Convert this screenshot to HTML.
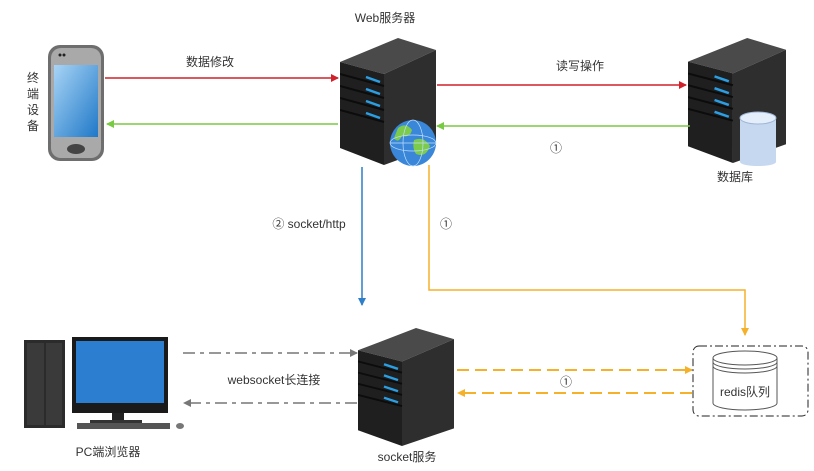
<!DOCTYPE html>
<html><head><meta charset="utf-8"><style>
html,body{margin:0;padding:0;background:#fff;}
svg{display:block;}
text{font-family:"Liberation Sans","Noto Sans CJK SC",sans-serif;fill:#333;font-size:12px;}
</style></head><body>
<svg width="814" height="471" viewBox="0 0 814 471" xmlns="http://www.w3.org/2000/svg">
<defs>
<symbol id="srv" viewBox="0 0 96 127" preserveAspectRatio="none">
  <polygon points="0,24 58,0 96,12 44,36" fill="#4a4a4a"/>
  <polygon points="44,36 96,12 96,108 44,127" fill="#2e2e2e"/>
  <polygon points="0,24 44,36 44,127 0,110" fill="#1f1f1f"/>
  <g stroke="#0c0c0c" stroke-width="2">
    <line x1="0" y1="36" x2="44" y2="48"/><line x1="0" y1="48" x2="44" y2="60"/>
    <line x1="0" y1="60" x2="44" y2="72"/><line x1="0" y1="72" x2="44" y2="84"/>
  </g>
  <g stroke="#2a9fe6" stroke-width="2.5">
    <line x1="26" y1="39" x2="40" y2="44"/><line x1="26" y1="51" x2="40" y2="56"/>
    <line x1="26" y1="63" x2="40" y2="68"/><line x1="26" y1="75" x2="40" y2="80"/>
  </g>
</symbol>
<linearGradient id="scr" x1="0" y1="0" x2="1" y2="1"><stop offset="0" stop-color="#a8d4f5"/><stop offset="1" stop-color="#1f78c8"/></linearGradient>
<marker id="aR" markerWidth="8" markerHeight="8" refX="7" refY="4" orient="auto" markerUnits="userSpaceOnUse"><path d="M0,0 L8,4 L0,8 Z" fill="#d0202a"/></marker>
<marker id="aG" markerWidth="8" markerHeight="8" refX="7" refY="4" orient="auto" markerUnits="userSpaceOnUse"><path d="M0,0 L8,4 L0,8 Z" fill="#7ac943"/></marker>
<marker id="aB" markerWidth="8" markerHeight="8" refX="7" refY="4" orient="auto" markerUnits="userSpaceOnUse"><path d="M0,0 L8,4 L0,8 Z" fill="#2f7fc8"/></marker>
<marker id="aO" markerWidth="8" markerHeight="8" refX="7" refY="4" orient="auto" markerUnits="userSpaceOnUse"><path d="M0,0 L8,4 L0,8 Z" fill="#f5b12a"/></marker>
<marker id="aY" markerWidth="8" markerHeight="8" refX="7" refY="4" orient="auto" markerUnits="userSpaceOnUse"><path d="M0,0 L8,4 L0,8 Z" fill="#777"/></marker>
</defs>

<!-- phone -->
<rect x="48" y="45" width="56" height="116" rx="12" fill="#6e6e6e"/>
<rect x="51" y="48" width="50" height="110" rx="10" fill="#a9a9a9"/>
<rect x="54" y="65" width="44" height="72" fill="url(#scr)"/>
<ellipse cx="76" cy="149" rx="9" ry="5" fill="#444"/>
<circle cx="60" cy="55" r="1.5" fill="#222"/><circle cx="64" cy="55" r="1.5" fill="#222"/>
<text x="27" y="82" font-size="11">终</text><text x="27" y="98" font-size="11">端</text>
<text x="27" y="114" font-size="11">设</text><text x="27" y="130" font-size="11">备</text>

<!-- web server -->
<use href="#srv" x="340" y="38" width="96" height="127"/>
<circle cx="413" cy="143" r="23" fill="#3a86d8"/>
<path d="M398,128 q8,-6 14,2 q-2,8 -10,6 q-4,8 -8,2 z M414,140 q10,-4 16,6 q-4,12 -14,8 q-4,-6 -2,-14 z" fill="#7ccb4a"/>
<g stroke="#bfe0ff" stroke-width="0.7" fill="none"><ellipse cx="413" cy="143" rx="23" ry="8"/><ellipse cx="413" cy="143" rx="10" ry="23"/><line x1="390" y1="143" x2="436" y2="143"/></g>
<text x="385" y="22" text-anchor="middle">Web服务器</text>

<!-- db server -->
<use href="#srv" x="688" y="38" width="98" height="125"/>
<rect x="740" y="118" width="36" height="44" fill="#c6d8f0"/>
<ellipse cx="758" cy="162" rx="18" ry="4" fill="#c6d8f0"/>
<ellipse cx="758" cy="118" rx="18" ry="6" fill="#e4eefa" stroke="#9fb6d6"/>
<text x="735" y="181" text-anchor="middle">数据库</text>

<!-- top arrows -->
<line x1="105" y1="78" x2="338" y2="78" stroke="#d0202a" stroke-width="1.5" marker-end="url(#aR)"/>
<text x="210" y="66" text-anchor="middle">数据修改</text>
<line x1="338" y1="124" x2="107" y2="124" stroke="#7ac943" stroke-width="1.5" marker-end="url(#aG)"/>
<line x1="437" y1="85" x2="686" y2="85" stroke="#d0202a" stroke-width="1.5" marker-end="url(#aR)"/>
<text x="580" y="70" text-anchor="middle">读写操作</text>
<line x1="690" y1="126" x2="437" y2="126" stroke="#7ac943" stroke-width="1.5" marker-end="url(#aG)"/>
<text x="556" y="152" text-anchor="middle">①</text>

<!-- vertical -->
<line x1="362" y1="167" x2="362" y2="305" stroke="#2f7fc8" stroke-width="1.5" marker-end="url(#aB)"/>
<text x="309" y="228" text-anchor="middle">② socket/http</text>
<polyline points="429,165 429,290 745,290 745,335" fill="none" stroke="#f5b12a" stroke-width="1.5" marker-end="url(#aO)"/>
<text x="446" y="228" text-anchor="middle">①</text>

<!-- PC -->
<rect x="24" y="340" width="41" height="88" fill="#2b2b2b"/>
<rect x="27" y="343" width="17" height="82" fill="#3a3a3a"/><rect x="46" y="343" width="16" height="82" fill="#3a3a3a"/>
<rect x="72" y="337" width="96" height="76" fill="#1a1a1a"/>
<rect x="76" y="341" width="88" height="62" fill="#2c7fd0"/>
<rect x="112" y="413" width="12" height="8" fill="#222"/>
<rect x="90" y="420" width="52" height="3" fill="#333"/>
<rect x="77" y="423" width="93" height="6" fill="#555"/>
<ellipse cx="180" cy="426" rx="4" ry="3" fill="#777"/>
<text x="108" y="456" text-anchor="middle">PC端浏览器</text>

<!-- socket server -->
<use href="#srv" x="358" y="328" width="96" height="118"/>
<text x="407" y="461" text-anchor="middle">socket服务</text>

<line x1="183" y1="353" x2="357" y2="353" stroke="#777" stroke-width="1.5" stroke-dasharray="12,5,4,5" marker-end="url(#aY)"/>
<text x="274" y="384" text-anchor="middle">websocket长连接</text>
<line x1="357" y1="403" x2="184" y2="403" stroke="#777" stroke-width="1.5" stroke-dasharray="12,5,4,5" marker-end="url(#aY)"/>

<line x1="457" y1="370" x2="692" y2="370" stroke="#f5b12a" stroke-width="2" stroke-dasharray="12,6" marker-end="url(#aO)"/>
<line x1="692" y1="393" x2="458" y2="393" stroke="#f5b12a" stroke-width="2" stroke-dasharray="12,6" marker-end="url(#aO)"/>
<text x="566" y="386" text-anchor="middle">①</text>

<!-- redis -->
<rect x="693" y="346" width="115" height="70" rx="6" fill="none" stroke="#222" stroke-width="1" stroke-dasharray="8,3,2,3"/>
<path d="M713,358 v45 a32,7 0 0 0 64,0 v-45" fill="#fff" stroke="#555"/>
<ellipse cx="745" cy="358" rx="32" ry="7" fill="#fff" stroke="#555"/>
<path d="M713,362 a32,7 0 0 0 64,0 M713,366 a32,7 0 0 0 64,0" fill="none" stroke="#555"/>
<text x="745" y="396" text-anchor="middle">redis队列</text>
</svg>
</body></html>
